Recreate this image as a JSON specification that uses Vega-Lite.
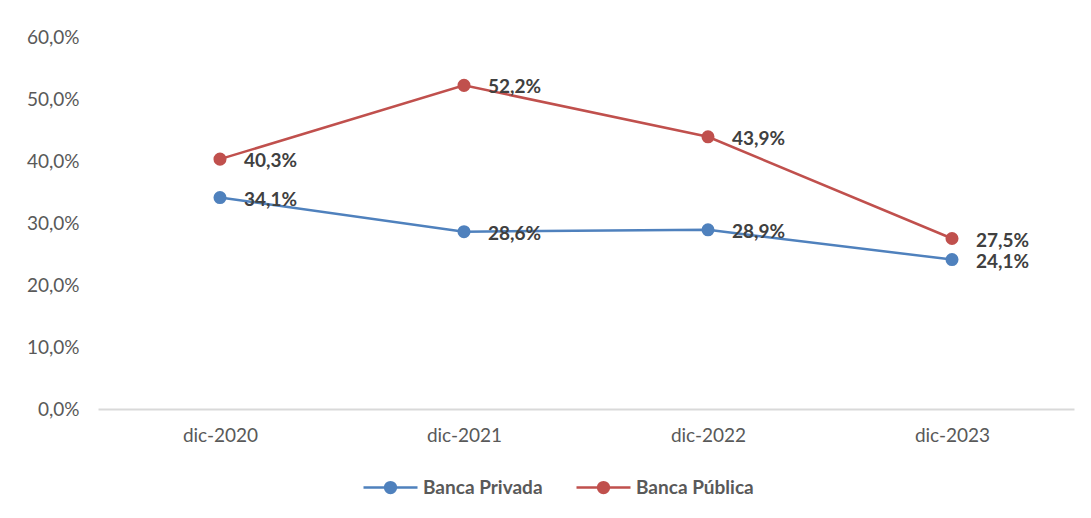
{
  "$schema": "https://vega.github.io/schema/vega-lite/v6.json",
  "autosize": {"type": "none"},
  "width": 976,
  "height": 372,
  "padding": {"left": 98, "top": 37, "right": 17, "bottom": 109},
  "background": "white",
  "config": {
    "locale": {"number": {"decimal": ",", "thousands": ".", "grouping": [3], "currency": ["", " €"]}},
    "view": {"stroke": null},
    "font": "Lato"
  },
  "data": {
    "values": [
      {"fecha": "dic-2020", "serie": "Banca Privada", "valor": 0.341},
      {"fecha": "dic-2021", "serie": "Banca Privada", "valor": 0.286},
      {"fecha": "dic-2022", "serie": "Banca Privada", "valor": 0.289},
      {"fecha": "dic-2023", "serie": "Banca Privada", "valor": 0.241},
      {"fecha": "dic-2020", "serie": "Banca Pública", "valor": 0.403},
      {"fecha": "dic-2021", "serie": "Banca Pública", "valor": 0.522},
      {"fecha": "dic-2022", "serie": "Banca Pública", "valor": 0.439},
      {"fecha": "dic-2023", "serie": "Banca Pública", "valor": 0.275}
    ]
  },
  "encoding": {
    "x": {
      "field": "fecha", "type": "ordinal", "sort": null,
      "scale": {"type": "point", "padding": 0.5},
      "axis": {"title": null, "labelAngle": 0, "ticks": false, "domainColor": "#d9d9d9", "domainWidth": 2,
               "labelColor": "#595959", "labelFontSize": 19, "labelPadding": 17, "grid": false}
    },
    "y": {
      "field": "valor", "type": "quantitative",
      "scale": {"domain": [0, 0.6], "nice": false},
      "axis": {"title": null, "format": ".1%", "values": [0, 0.1, 0.2, 0.3, 0.4, 0.5, 0.6], "labelOverlap": false,
               "domain": false, "ticks": false, "grid": false, "labelColor": "#595959", "labelFontSize": 19, "labelPadding": 19}
    },
    "color": {
      "field": "serie", "type": "nominal",
      "scale": {"domain": ["Banca Privada", "Banca Pública"], "range": ["#4f81bd", "#c0504d"]},
      "legend": {
        "title": null, "orient": "none", "direction": "horizontal", "legendX": 264, "legendY": 422,
        "symbolType": "M-1,0L-0.2,0M0.2,0L1,0M0.2,0A0.2,0.2 0 1,1 -0.2,0A0.2,0.2 0 1,1 0.2,0",
        "symbolSize": 2916, "symbolStrokeWidth": 2.5,
        "labelFontSize": 19, "labelFontWeight": "bold", "labelColor": "#595959",
        "labelOffset": 4, "columnPadding": 28,
        "encode": {"symbols": {"update": {
          "stroke": {"scale": "color", "field": "value"},
          "fill": {"scale": "color", "field": "value"},
          "opacity": {"value": 1}, "strokeOpacity": {"value": 1}, "fillOpacity": {"value": 1}
        }}}
      }
    }
  },
  "layer": [
    {"mark": {"type": "line", "strokeWidth": 2.5}},
    {"mark": {"type": "point", "filled": true, "opacity": 1, "size": 170}},
    {
      "mark": {"type": "text", "align": "left", "baseline": "middle", "dx": 24, "dy": 2, "fontSize": 19, "fontWeight": "bold"},
      "encoding": {"text": {"field": "valor", "type": "quantitative", "format": ".1%"}, "color": {"value": "#404040"}}
    }
  ]
}
